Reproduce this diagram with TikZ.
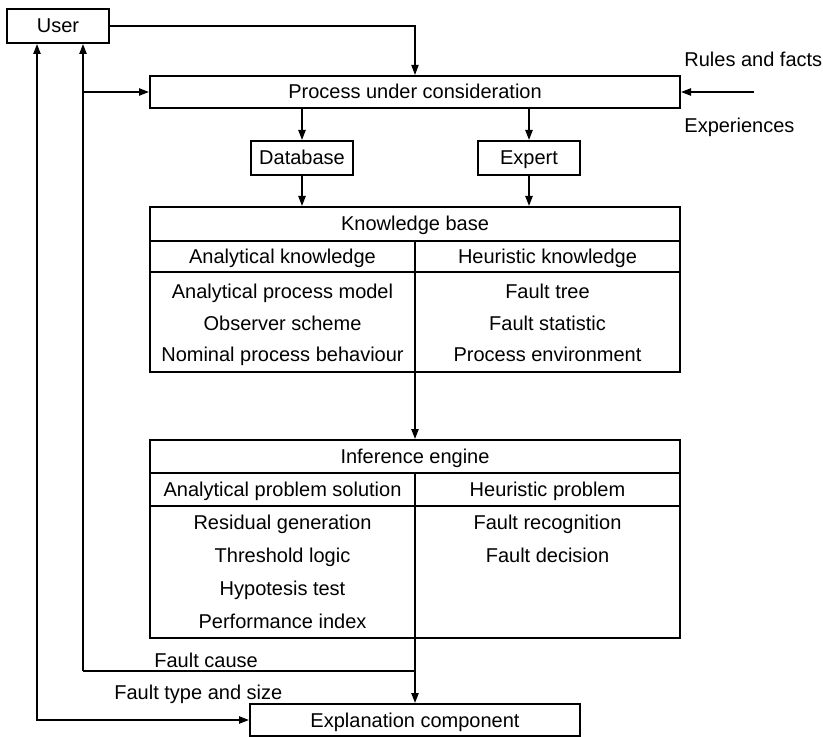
\documentclass[tikz,border=0pt]{standalone}
\usepackage{fontspec}
\setmainfont{Liberation Sans}
\usetikzlibrary{arrows.meta, positioning, calc}

\begin{document}
\begin{tikzpicture}[
  x=0.5pt, y=-0.5pt,
  >={Triangle[length=5pt, width=3.6pt]},
  every node/.style={font=\fontsize{10}{12}\selectfont, inner sep=0pt, text height=7pt, text depth=0pt},
  blockbox/.style={draw, line width=1pt, minimum height=17pt},
  cellbox/.style={draw, line width=1pt, minimum width=132.5pt},
  flow/.style={line width=0.9pt, ->},
  thinline/.style={line width=0.6pt},
  sidelabel/.style={anchor=west},
]
\useasboundingbox (0,0) rectangle (823,737);

% User and process
\node[blockbox, minimum width=51pt] (user) at (58,26) {User};
\node[blockbox, minimum width=265pt, minimum height=16pt] (proc) at (415,92) {Process under consideration};
\node[sidelabel] (rules) at (684,60) {Rules and facts};
\node[sidelabel] (exper) at (684,126) {Experiences};
\coordinate (rfin) at (754,92);

% Database and expert
\node[blockbox, minimum width=51pt] (db) at (302,158) {Database};
\node[blockbox, minimum width=51pt] (expert) at (529,158) {Expert};

% Knowledge base
\node[blockbox, minimum width=265pt] (kb) at (415,224) {Knowledge base};
\node[cellbox, minimum height=15.5pt] (kbana) at (282.5,256.5) {Analytical knowledge};
\node[cellbox, minimum height=15.5pt] (kbheu) at (547.5,256.5) {Heuristic knowledge};
\node[cellbox, minimum height=50pt] (kbl) at (282.5,322) {};
\node[cellbox, minimum height=50pt] (kbr) at (547.5,322) {};
\node (kbl1) at (282.5,292) {Analytical process model};
\node (kbl2) at (282.5,323) {Observer scheme};
\node (kbl3) at (282.5,354) {Nominal process behaviour};
\node (kbr1) at (547.5,292) {Fault tree};
\node (kbr2) at (547.5,323) {Fault statistic};
\node (kbr3) at (547.5,354) {Process environment};

% Inference engine
\node[blockbox, minimum width=265pt, minimum height=16.5pt] (ie) at (415,456.5) {Inference engine};
\node[cellbox, minimum height=16.5pt] (ieana) at (282.5,489.5) {Analytical problem solution};
\node[cellbox, minimum height=16.5pt] (ieheu) at (547.5,489.5) {Heuristic problem};
\node[cellbox, minimum height=66pt] (iel) at (282.5,572) {};
\node[cellbox, minimum height=66pt] (ier) at (547.5,572) {};
\node (iel1) at (282.5,522) {Residual generation};
\node (iel2) at (282.5,555) {Threshold logic};
\node (iel3) at (282.5,588) {Hypotesis test};
\node (iel4) at (282.5,621) {Performance index};
\node (ier1) at (547.5,522) {Fault recognition};
\node (ier2) at (547.5,555) {Fault decision};

% Explanation component
\node[blockbox, minimum width=165pt, minimum height=16pt] (expl) at (415,720) {Explanation component};
\node[sidelabel] (fcause) at (154,660) {Fault cause};
\node[sidelabel] (ftype) at (114,692) {Fault type and size};

% Connectors
\draw[thinline, ->] (user.east) -| (proc.north);
\draw[flow] (rfin) -- (proc.east);
\draw[flow] (proc.south -| db.north) -- (db.north);
\draw[flow] (proc.south -| expert.north) -- (expert.north);
\draw[flow] (db.south) -- (kb.north -| db.south);
\draw[flow] (expert.south) -- (kb.north -| expert.south);
\draw[flow] (ie.north |- kbl.south) -- (ie.north);
\draw[flow] (expl.north |- iel.south) -- (expl.north);

% Feedback to user
\coordinate (fcut) at (415,671);
\coordinate (fcleft) at (83,671);
\coordinate (ftleft) at (37,720);
\draw[thinline] (fcut) -- (fcleft);
\draw[flow] (fcleft) -- (fcleft |- user.south);
\draw[flow] (fcleft |- proc.west) -- (proc.west);
\draw[flow, <->] (ftleft |- user.south) -- (ftleft) -- (expl.west);

\end{tikzpicture}
\end{document}
